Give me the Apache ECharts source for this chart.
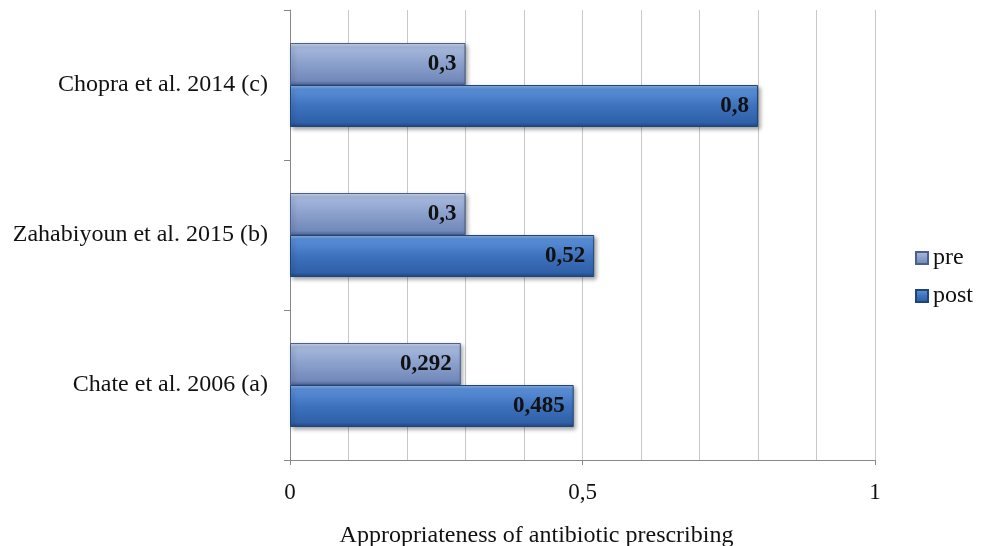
<!DOCTYPE html>
<html>
<head>
<meta charset="utf-8">
<script src="https://cdn.jsdelivr.net/npm/echarts@6/dist/echarts.min.js"></script>
<style>
  html, body { margin: 0; padding: 0; background: #fff; overflow: hidden; }
  #chart { width: 988px; height: 546px; }
</style>
</head>
<body>
<div id="chart"></div>
<script>
// Studies, bottom to top
const studies = ['Chate et al. 2006 (a)', 'Zahabiyoun et al. 2015 (b)', 'Chopra et al. 2014 (c)'];
// Appropriateness before and after the intervention
const preValues = [0.292, 0.3, 0.3];
const postValues = [0.485, 0.52, 0.8];
const seriesNames = ['pre', 'post'];
const axisTitle = 'Appropriateness of antibiotic prescribing';

const FONT = '"Liberation Serif", "Times New Roman", serif';

function vGrad(stops) {
  return new echarts.graphic.LinearGradient(0, 0, 0, 1,
    stops.map(s => ({ offset: s[0], color: s[1] })));
}

const preFill = vGrad([[0, '#d0dbef'], [0.1, '#a6b8dc'], [0.5, '#8aa0cc'], [0.9, '#7189ba'], [1, '#53699a']]);
const postFill = vGrad([[0, '#8fb8ec'], [0.1, '#5a8fd8'], [0.5, '#3e72bd'], [0.9, '#2f60a8'], [1, '#1d4580']]);

const labelStyle = {
  show: true,
  position: 'insideRight',
  distance: 9,
  fontFamily: FONT,
  fontWeight: 'bold',
  fontSize: 23,
  color: '#111',
  formatter: p => String(p.value).replace('.', ',')
};

const chart = echarts.init(document.getElementById('chart'), null, { renderer: 'canvas' });
chart.setOption({
  animation: false,
  backgroundColor: '#fff',
  grid: { left: 290, right: 113, top: 10, bottom: 86, containLabel: false, outerBoundsMode: 'none' },
  legend: {
    data: seriesNames,
    orient: 'vertical',
    left: 910,
    top: 241,
    itemWidth: 12,
    itemHeight: 12,
    itemGap: 14,
    icon: 'rect',
    textStyle: { fontFamily: FONT, fontSize: 24, color: '#111' }
  },
  xAxis: {
    type: 'value',
    min: 0,
    max: 1,
    interval: 0.5,
    name: axisTitle,
    nameLocation: 'middle',
    nameGap: 64,
    nameTextStyle: { fontFamily: FONT, fontSize: 24, color: '#111', padding: [0, 92, 0, 0] },
    axisLine: { show: true, lineStyle: { color: '#888', width: 1 } },
    axisTick: { show: true, length: 5, lineStyle: { color: '#888' } },
    axisLabel: {
      fontFamily: FONT, fontSize: 23, color: '#111', margin: 21,
      formatter: v => String(v).replace('.', ',')
    },
    splitLine: { show: true, lineStyle: { color: '#c8c8c8', width: 1 } },
    minorTick: { show: false, splitNumber: 5 },
    minorSplitLine: { show: true, lineStyle: { color: '#c8c8c8', width: 1 } }
  },
  yAxis: {
    type: 'category',
    data: studies,
    axisLine: { show: true, lineStyle: { color: '#888', width: 1 } },
    axisTick: { show: true, length: 6, lineStyle: { color: '#888' } },
    axisLabel: { fontFamily: FONT, fontSize: 24, color: '#111', margin: 22 },
    splitLine: { show: false }
  },
  series: [
    {
      name: 'pre',
      type: 'bar',
      data: preValues,
      barWidth: 42,
      barGap: '0%',
      itemStyle: {
        color: preFill,
        borderColor: '#4a5f8a',
        borderWidth: 1,
        shadowColor: 'rgba(0,0,0,0.35)',
        shadowBlur: 4,
        shadowOffsetX: 2,
        shadowOffsetY: 2
      },
      label: labelStyle
    },
    {
      name: 'post',
      type: 'bar',
      data: postValues,
      barWidth: 42,
      barGap: '0%',
      itemStyle: {
        color: postFill,
        borderColor: '#1f4478',
        borderWidth: 1,
        shadowColor: 'rgba(0,0,0,0.35)',
        shadowBlur: 4,
        shadowOffsetX: 2,
        shadowOffsetY: 2
      },
      label: labelStyle
    }
  ]
});
</script>
</body>
</html>
